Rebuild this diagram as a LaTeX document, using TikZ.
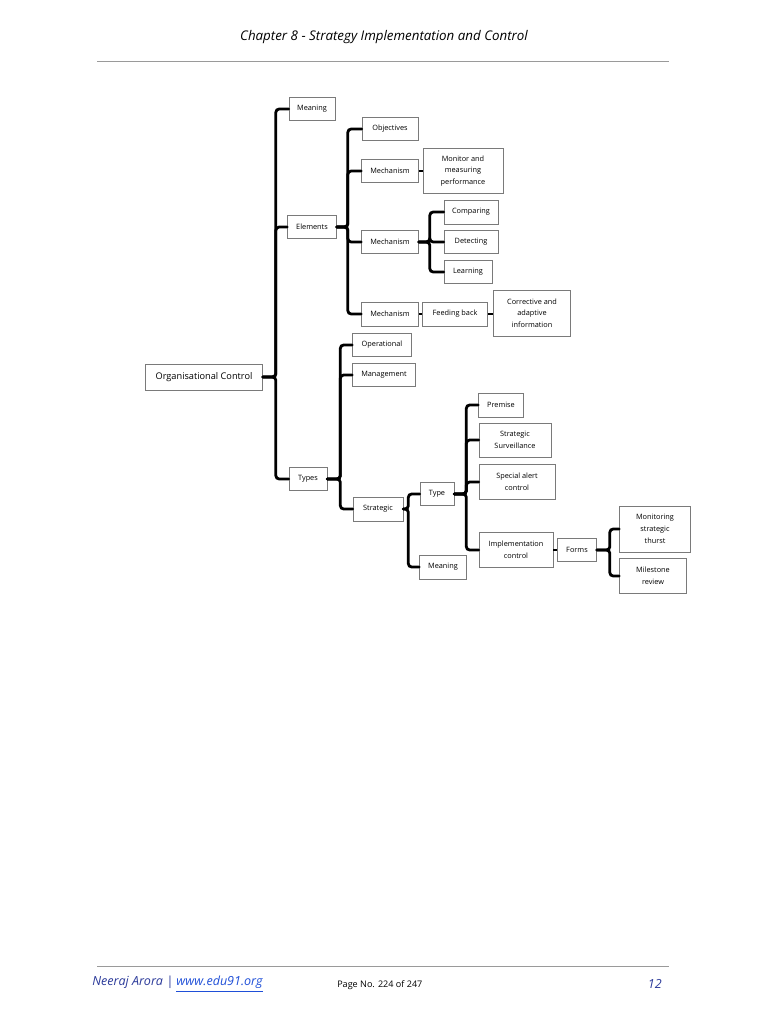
\documentclass[tikz,border=0pt]{standalone}
\usepackage{fontspec}
\setmainfont{Open Sans}
\usetikzlibrary{shadows}
\definecolor{boxline}{HTML}{7A7A7A}
\definecolor{rulegray}{HTML}{9A9A9A}
\definecolor{footblue}{HTML}{2B3A9A}
\definecolor{linkblue}{HTML}{1F4FD8}
\begin{document}
\begin{tikzpicture}[x=0.75pt,y=-0.75pt,
  box/.style={draw=boxline, line width=0.5pt, fill=white, align=center,
    font=\fontsize{5.5}{8.8}\selectfont, inner sep=1pt,
    drop shadow={shadow xshift=0.7pt, shadow yshift=-0.7pt, fill=black!25, opacity=1}},
  sz/.style 2 args={minimum width=#1*0.75pt, minimum height=#2*0.75pt},
  conn/.style={line width=2.1pt, rounded corners=2.5pt, line cap=round},
  link/.style={line width=1.8pt}]
\useasboundingbox (0,0) rectangle (768,1024);
\fill[white] (0,0) rectangle (768,1024);

% header and footer
\node (title) at (384,37) {\fontsize{10}{12}\selectfont\itshape Chapter 8 - Strategy Implementation and Control};
\draw[rulegray, line width=0.6pt] (97,61) coordinate (hl) -- (669,61) coordinate (hr);
\draw[rulegray, line width=0.6pt] (97,966) coordinate (fl) -- (669,966) coordinate (fr);
\node[anchor=west, inner sep=0pt] (author) at (92,984) {\fontsize{9.4}{11}\selectfont\itshape\color{footblue}Neeraj Arora | \color{linkblue}\underline{www.edu91.org}};
\node[anchor=west, inner sep=0pt] (page) at (337,985) {\fontsize{6.8}{8}\selectfont Page No. 224 of 247};
\node[anchor=east, inner sep=0pt] (pnum) at (662,984) {\fontsize{9.4}{11}\selectfont\itshape\color{footblue}12};

% nodes
\node[box, sz={117}{26}, font=\fontsize{6.9}{8}\selectfont] (org) at (204,377) {Organisational Control};
\node[box, sz={46}{23}] (meaning) at (312,109) {Meaning};
\node[box, sz={49}{23}] (elements) at (312,227) {Elements};
\node[box, sz={38}{23}] (types) at (308,479) {Types};

\node[box, sz={56}{23}] (objectives) at (390,129) {Objectives};
\node[box, sz={57}{23}] (mech1) at (390,171) {Mechanism};
\node[box, sz={80}{45}] (monitor) at (463,171) {Monitor and\\measuring\\performance};
\node[box, sz={57}{23}] (mech2) at (390,242) {Mechanism};
\node[box, sz={54}{24}] (comparing) at (471,212) {Comparing};
\node[box, sz={54}{23}] (detecting) at (471,242) {Detecting};
\node[box, sz={48}{23}] (learning) at (468,272) {Learning};
\node[box, sz={57}{24}] (mech3) at (390,314) {Mechanism};
\node[box, sz={65}{24}] (feeding) at (455,314) {Feeding back};
\node[box, sz={77}{46}] (corrective) at (532,313) {Corrective and\\adaptive\\information};

\node[box, sz={59}{23}] (operational) at (382,345) {Operational};
\node[box, sz={63}{23}] (management) at (384,375) {Management};
\node[box, sz={50}{24}] (strategic) at (378,509) {Strategic};
\node[box, sz={34}{23}] (type) at (437,494) {Type};
\node[box, sz={47}{24}] (meaning2) at (443,567) {Meaning};
\node[box, sz={45}{24}] (premise) at (501,405) {Premise};
\node[box, sz={72}{34}] (surv) at (515,440) {Strategic\\Surveillance};
\node[box, sz={76}{35}] (alert) at (517,482) {Special alert\\control};
\node[box, sz={74}{35}] (impl) at (516,550) {Implementation\\control};
\node[box, sz={39}{23}] (forms) at (577,550) {Forms};
\node[box, sz={71}{46}] (monstrat) at (655,529) {Monitoring\\strategic\\thurst};
\node[box, sz={67}{35}] (milestone) at (653,576) {Milestone\\review};

% connectors
\draw[conn] (org.east) -- ++(13,0) |- (meaning.west);
\draw[conn] (org.east) -- ++(13,0) |- (elements.west);
\draw[conn] (org.east) -- ++(13,0) |- (types.west);

\draw[conn] (elements.east) -- ++(11,0) |- (objectives.west);
\draw[conn] (elements.east) -- ++(11,0) |- (mech1.west);
\draw[conn] (elements.east) -- ++(11,0) |- (mech2.west);
\draw[conn] (elements.east) -- ++(11,0) |- (mech3.west);

\draw[link] (mech1.east) -- (monitor.west);
\draw[conn] (mech2.east) -- ++(11,0) |- (comparing.west);
\draw[conn] (mech2.east) -- ++(11,0) |- (detecting.west);
\draw[conn] (mech2.east) -- ++(11,0) |- (learning.west);
\draw[link] (mech3.east) -- (feeding.west);
\draw[link] (feeding.east) -- (feeding.east -| corrective.west);

\draw[conn] (types.east) -- ++(13,0) |- (operational.west);
\draw[conn] (types.east) -- ++(13,0) |- (management.west);
\draw[conn] (types.east) -- ++(13,0) |- (strategic.west);

\draw[conn] (strategic.east) -- ++(5,0) |- (type.west);
\draw[conn] (strategic.east) -- ++(5,0) |- (meaning2.west);

\draw[conn] (type.east) -- ++(12,0) |- (premise.west);
\draw[conn] (type.east) -- ++(12,0) |- (surv.west);
\draw[conn] (type.east) -- ++(12,0) |- (alert.west);
\draw[conn] (type.east) -- ++(12,0) |- (impl.west);

\draw[link] (impl.east) -- (forms.west);
\draw[conn] (forms.east) -- ++(13,0) |- (monstrat.west);
\draw[conn] (forms.east) -- ++(13,0) |- (milestone.west);
\end{tikzpicture}
\end{document}
